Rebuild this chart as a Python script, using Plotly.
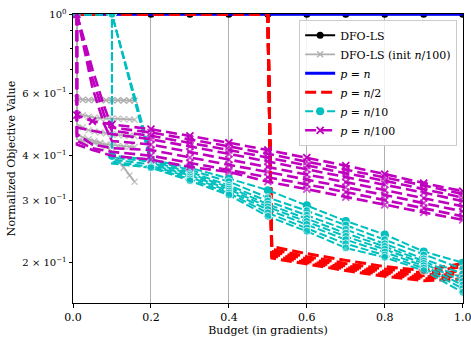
import math
import plotly.graph_objects as go

FONT = "DejaVu Serif"

# ---------------- data ----------------
DFO_X = [0.0, 0.1, 0.2, 0.3, 0.4, 0.5, 0.6, 0.7, 0.8, 0.9, 1.0]
DFO_Y = [1.0, 1.0, 1.0, 1.0, 1.0, 1.0, 1.0, 1.0, 1.0, 1.0, 1.0]

GRAY_X = [0.01, 0.01, 0.025, 0.04, 0.055, 0.07, 0.085, 0.1, 0.115, 0.13, 0.145, 0.158]
GRAY_RUNS = [
    [1.0, 0.58, 0.575, 0.574, 0.574, 0.574, 0.573, 0.573, 0.573, 0.572, 0.572, 0.572],
    [1.0, 0.53, 0.52, 0.515, 0.512, 0.51, 0.51, 0.509, 0.508, 0.507, 0.506, 0.505],
    [1.0, 0.49, 0.48, 0.472, 0.468, 0.465, 0.462, 0.46, 0.458, 0.456, 0.455, 0.454],
    [1.0, 0.46, 0.45, 0.445, 0.44, 0.435, 0.425, 0.41, 0.39, 0.37, 0.352, 0.338],
    [1.0, 0.445, 0.44, 0.436, 0.434, 0.432, 0.43, 0.428, 0.426, 0.425, 0.424, 0.423],
]

BLUE_X = [0.0, 1.0]
BLUE_Y = [1.0, 1.0]

RED_X = [0.0, 0.5, 0.51, 0.6, 0.7, 0.8, 0.88, 0.9, 1.0]
RED_RUNS = [
    [1.0, 1.0, 0.222, 0.212, 0.203, 0.195, 0.191, 0.190, 0.199],
    [1.0, 1.0, 0.218, 0.208, 0.199, 0.192, 0.188, 0.187, 0.195],
    [1.0, 1.0, 0.215, 0.205, 0.196, 0.189, 0.185, 0.184, 0.190],
    [1.0, 1.0, 0.212, 0.202, 0.194, 0.187, 0.183, 0.182, 0.187],
    [1.0, 1.0, 0.209, 0.200, 0.192, 0.185, 0.181, 0.180, 0.184],
    [1.0, 1.0, 0.206, 0.198, 0.190, 0.183, 0.179, 0.178, 0.180],
]

CYAN_X_DROP = [0.0, 0.1, 0.1, 0.2, 0.3, 0.4, 0.5, 0.6, 0.7, 0.8, 0.9, 1.0]
CYAN_X_DIAG = [0.0, 0.1, 0.19, 0.2, 0.3, 0.4, 0.5, 0.6, 0.7, 0.8, 0.9, 1.0]
CYAN_RUNS = [
    ("drop", [1.0, 1.0, 0.40, 0.39, 0.37, 0.345, 0.32, 0.29, 0.262, 0.24, 0.215, 0.20]),
    ("diag", [1.0, 1.0, 0.44, 0.388, 0.365, 0.338, 0.305, 0.28, 0.255, 0.232, 0.21, 0.192]),
    ("drop", [1.0, 1.0, 0.395, 0.385, 0.36, 0.33, 0.298, 0.272, 0.248, 0.226, 0.205, 0.186]),
    ("diag", [1.0, 1.0, 0.43, 0.382, 0.356, 0.326, 0.292, 0.266, 0.242, 0.222, 0.202, 0.181]),
    ("drop", [1.0, 1.0, 0.39, 0.378, 0.352, 0.322, 0.287, 0.261, 0.237, 0.218, 0.199, 0.177]),
    ("diag", [1.0, 1.0, 0.42, 0.375, 0.348, 0.318, 0.282, 0.256, 0.232, 0.214, 0.196, 0.173]),
    ("drop", [1.0, 1.0, 0.385, 0.372, 0.344, 0.314, 0.276, 0.25, 0.226, 0.21, 0.193, 0.169]),
    ("drop", [1.0, 1.0, 0.38, 0.37, 0.34, 0.31, 0.27, 0.245, 0.22, 0.207, 0.19, 0.165]),
]

MAG_X_DROP = [0.01, 0.01, 0.05, 0.1, 0.2, 0.3, 0.4, 0.5, 0.6, 0.7, 0.8, 0.9, 1.0]
MAG_X_DIAG = [0.01, 0.05, 0.08, 0.1, 0.2, 0.3, 0.4, 0.5, 0.6, 0.7, 0.8, 0.9, 1.0]
MAG_RUNS = [
    ("drop", [1.0, 0.52, 0.50, 0.49, 0.475, 0.455, 0.435, 0.415, 0.395, 0.375, 0.355, 0.335, 0.318]),
    ("diag", [1.0, 0.70, 0.55, 0.48, 0.465, 0.445, 0.425, 0.405, 0.385, 0.366, 0.348, 0.33, 0.312]),
    ("diag", [1.0, 0.66, 0.52, 0.47, 0.455, 0.435, 0.415, 0.395, 0.375, 0.357, 0.34, 0.322, 0.305]),
    ("drop", [1.0, 0.48, 0.47, 0.46, 0.445, 0.425, 0.405, 0.385, 0.366, 0.349, 0.332, 0.315, 0.298]),
    ("diag", [1.0, 0.62, 0.49, 0.44, 0.43, 0.41, 0.39, 0.372, 0.354, 0.337, 0.32, 0.304, 0.288]),
    ("drop", [1.0, 0.46, 0.43, 0.42, 0.415, 0.395, 0.377, 0.36, 0.343, 0.326, 0.31, 0.294, 0.279]),
    ("drop", [1.0, 0.44, 0.42, 0.41, 0.40, 0.382, 0.365, 0.348, 0.332, 0.316, 0.30, 0.285, 0.27]),
    ("drop", [1.0, 0.43, 0.415, 0.40, 0.39, 0.372, 0.36, 0.338, 0.322, 0.306, 0.291, 0.277, 0.264]),
]

Y_TICKS = [0.2, 0.3, 0.4, 0.6, 1.0]
Y_TICK_TEXT = ["2 × 10<sup>−1</sup>", "3 × 10<sup>−1</sup>", "4 × 10<sup>−1</sup>",
               "6 × 10<sup>−1</sup>", "10<sup>0</sup>"]
Y_MINOR = [0.5, 0.7, 0.8, 0.9]
X_TICKS = [0.0, 0.2, 0.4, 0.6, 0.8, 1.0]

LABELS = ["DFO-LS", "DFO-LS (init <i>n</i>/100)", "<i>p</i> = <i>n</i>",
          "<i>p</i> = <i>n</i>/2", "<i>p</i> = <i>n</i>/10", "<i>p</i> = <i>n</i>/100"]

BLACK = "#000000"
GRAY = "rgb(175,175,175)"
BLUE = "#0000ff"
RED = "#ff0000"
CYAN = "#00bfbf"
MAG = "#bf00bf"

fig = go.Figure()

fig.add_trace(go.Scatter(x=DFO_X, y=DFO_Y, mode="lines+markers", name=LABELS[0],
                         line=dict(color=BLACK, width=2),
                         marker=dict(symbol="circle", size=7, color=BLACK),
                         legendgroup="a", showlegend=True))

for i, ys in enumerate(GRAY_RUNS):
    sizes = [0, 0] + [6] * (len(GRAY_X) - 2)
    fig.add_trace(go.Scatter(x=GRAY_X, y=ys, mode="lines+markers", name=LABELS[1],
                             line=dict(color=GRAY, width=1.8),
                             marker=dict(symbol="x-thin", size=sizes if i else 6,
                                         color=GRAY, line=dict(color=GRAY, width=1.3)),
                             legendgroup="b", showlegend=(i == 0)))

fig.add_trace(go.Scatter(x=BLUE_X, y=BLUE_Y, mode="lines", name=LABELS[2],
                         line=dict(color=BLUE, width=3), legendgroup="c"))

for i, ys in enumerate(RED_RUNS):
    fig.add_trace(go.Scatter(x=RED_X, y=ys, mode="lines", name=LABELS[3],
                             line=dict(color=RED, width=3, dash="11px,5px"),
                             legendgroup="d", showlegend=(i == 0)))

for i, (kind, ys) in enumerate(CYAN_RUNS):
    xs = CYAN_X_DROP if kind == "drop" else CYAN_X_DIAG
    sizes = [0, 8, 0] + [8] * (len(xs) - 3)
    fig.add_trace(go.Scatter(x=xs, y=ys, mode="lines+markers", name=LABELS[4],
                             line=dict(color=CYAN, width=2, dash="8px,3px"),
                             marker=dict(symbol="circle", size=sizes if i else 8, color=CYAN),
                             legendgroup="e", showlegend=(i == 0)))

for i, (kind, ys) in enumerate(MAG_RUNS):
    xs = MAG_X_DROP if kind == "drop" else MAG_X_DIAG
    sizes = [0, 0, 0, 0] + [7] * (len(xs) - 4)
    fig.add_trace(go.Scatter(x=xs, y=ys, mode="lines+markers", name=LABELS[5],
                             line=dict(color=MAG, width=2.6, dash="11px,5px"),
                             marker=dict(symbol="x-thin", size=sizes if i else 7, color=MAG,
                                         line=dict(color=MAG, width=1.8)),
                             legendgroup="f", showlegend=(i == 0)))

fig.update_layout(
    width=471, height=341,
    margin=dict(l=73, r=8, t=14, b=38, autoexpand=False),
    paper_bgcolor="white", plot_bgcolor="white",
    font=dict(family=FONT, size=11, color="black"),
    showlegend=True,
    legend=dict(x=0.985, y=0.98, xanchor="right", yanchor="top",
                bgcolor="rgba(255,255,255,0.85)", bordercolor="#cccccc", borderwidth=1,
                font=dict(family=FONT, size=11), tracegroupgap=0, itemwidth=30),
)
fig.update_xaxes(range=[0, 1.0008], tickvals=X_TICKS, tickformat=".1f", automargin=False,
                 ticklabeloverflow="allow",
                 showgrid=True, gridcolor="#b0b0b0", gridwidth=0.8,
                 showline=True, linecolor="black", linewidth=1, mirror=True,
                 ticks="outside", ticklen=3.5, tickcolor="black",
                 zeroline=False, title=dict(text="Budget (in gradients)", standoff=3,
                                            font=dict(size=11)),
                 tickfont=dict(size=11))
fig.update_yaxes(type="log", range=[math.log10(0.154), 0.0008], automargin=False,
                 ticklabeloverflow="allow",
                 tickvals=Y_TICKS, ticktext=Y_TICK_TEXT,
                 showgrid=False, showline=True, linecolor="black", linewidth=1, mirror=True,
                 ticks="outside", ticklen=3.5, tickcolor="black",
                 minor=dict(tickvals=Y_MINOR, ticks="outside", ticklen=2, tickcolor="black", showgrid=False),
                 zeroline=False, title=dict(text="Normalized Objective Value", standoff=4,
                                            font=dict(size=11)),
                 tickfont=dict(size=10))

fig.write_html("out.html", config={"displayModeBar": False},
               post_script="document.body.style.margin='0px';document.body.style.overflow='hidden';")
